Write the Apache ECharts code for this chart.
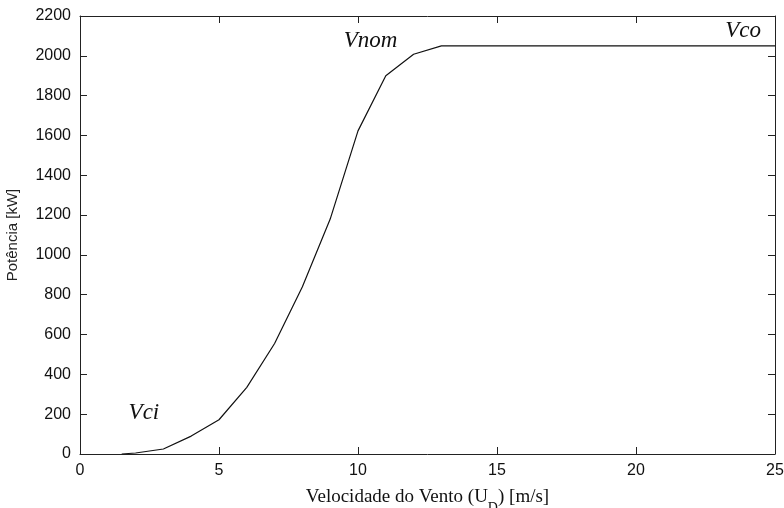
<!DOCTYPE html>
<html>
<head>
<meta charset="utf-8">
<script src="https://cdn.jsdelivr.net/npm/echarts@6/dist/echarts.min.js"></script>
<style>
  html, body { margin: 0; padding: 0; background: #fff; }
  #main { width: 784px; height: 508px; }
</style>
</head>
<body>
<div id="main"></div>
<script>
// curva de potencia
var windSpeed = [1.5, 2, 3, 4, 5, 6, 7, 8, 9, 10, 11, 12, 13, 25];
var power = [0, 5, 25, 90, 172, 335, 555, 840, 1180, 1623, 1900, 2008, 2050, 2050];

// rotulos no grafico [x, y, texto]
var notes = [
	[2.3, 205, 'Vci'],
	[10.45, 2075, 'Vnom'],
	[23.85, 2125, 'Vco']
];

var xTicks = { min: 0, max: 25, interval: 5 };
var yTicks = { min: 0, max: 2200, interval: 200 };

var chart = echarts.init(document.getElementById('main'));

var axisLineStyle = { color: '#222', width: 1 };
var serif = 'Liberation Serif, Times New Roman, serif';

function makeAxis(t, pos, show) {
	return {
		type: 'value',
		position: pos,
		min: t.min,
		max: t.max,
		interval: t.interval,
		axisLine: { show: true, onZero: false, lineStyle: axisLineStyle },
		axisTick: { show: true, inside: true, length: 7, lineStyle: axisLineStyle },
		axisLabel: {
			show: show,
			color: '#111',
			fontFamily: 'Liberation Sans, Arial, sans-serif',
			fontSize: 16,
			margin: 9,
			formatter: function(v) { return String(v); }
		},
		splitLine: { show: false }
	};
}

var xBottom = makeAxis(xTicks, 'bottom', true);
xBottom.name = '{t|Velocidade do Vento (U}{sub|D}{t|) [m/s]}';
xBottom.nameLocation = 'middle';
xBottom.nameGap = 34;
xBottom.nameTextStyle = {
	rich: {
		t: { fontFamily: serif, fontSize: 19, lineHeight: 19, color: '#111', verticalAlign: 'top' },
		sub: { fontFamily: serif, fontSize: 14, lineHeight: 14, color: '#111', verticalAlign: 'top', padding: [13, 0, 0, 0] }
	}
};

var yLeft = makeAxis(yTicks, 'left', true);
yLeft.name = 'Potência [kW]';
yLeft.nameLocation = 'middle';
yLeft.nameGap = 60;
yLeft.nameTextStyle = {
	fontFamily: 'Liberation Sans, Arial, sans-serif',
	fontSize: 15,
	color: '#222'
};

var option = {
	animation: false,
	backgroundColor: '#fff',
	grid: { left: 80, right: 9, top: 16, bottom: 54, outerBoundsMode: 'none' },
	xAxis: [xBottom, makeAxis(xTicks, 'top', false)],
	yAxis: [yLeft, makeAxis(yTicks, 'right', false)],
	series: [{
		type: 'line',
		data: windSpeed.map(function(v, i) { return [v, power[i]]; }),
		showSymbol: false,
		lineStyle: { color: '#111', width: 1.2 },
		markPoint: {
			symbol: 'circle',
			symbolSize: 0,
			label: {
				show: true,
				position: 'inside',
				formatter: '{b}',
				fontFamily: serif,
				fontStyle: 'italic',
				fontSize: 23,
				color: '#111'
			},
			data: notes.map(function(n) { return { name: n[2], coord: [n[0], n[1]] }; })
		}
	}]
};

chart.setOption(option);
</script>
</body>
</html>
